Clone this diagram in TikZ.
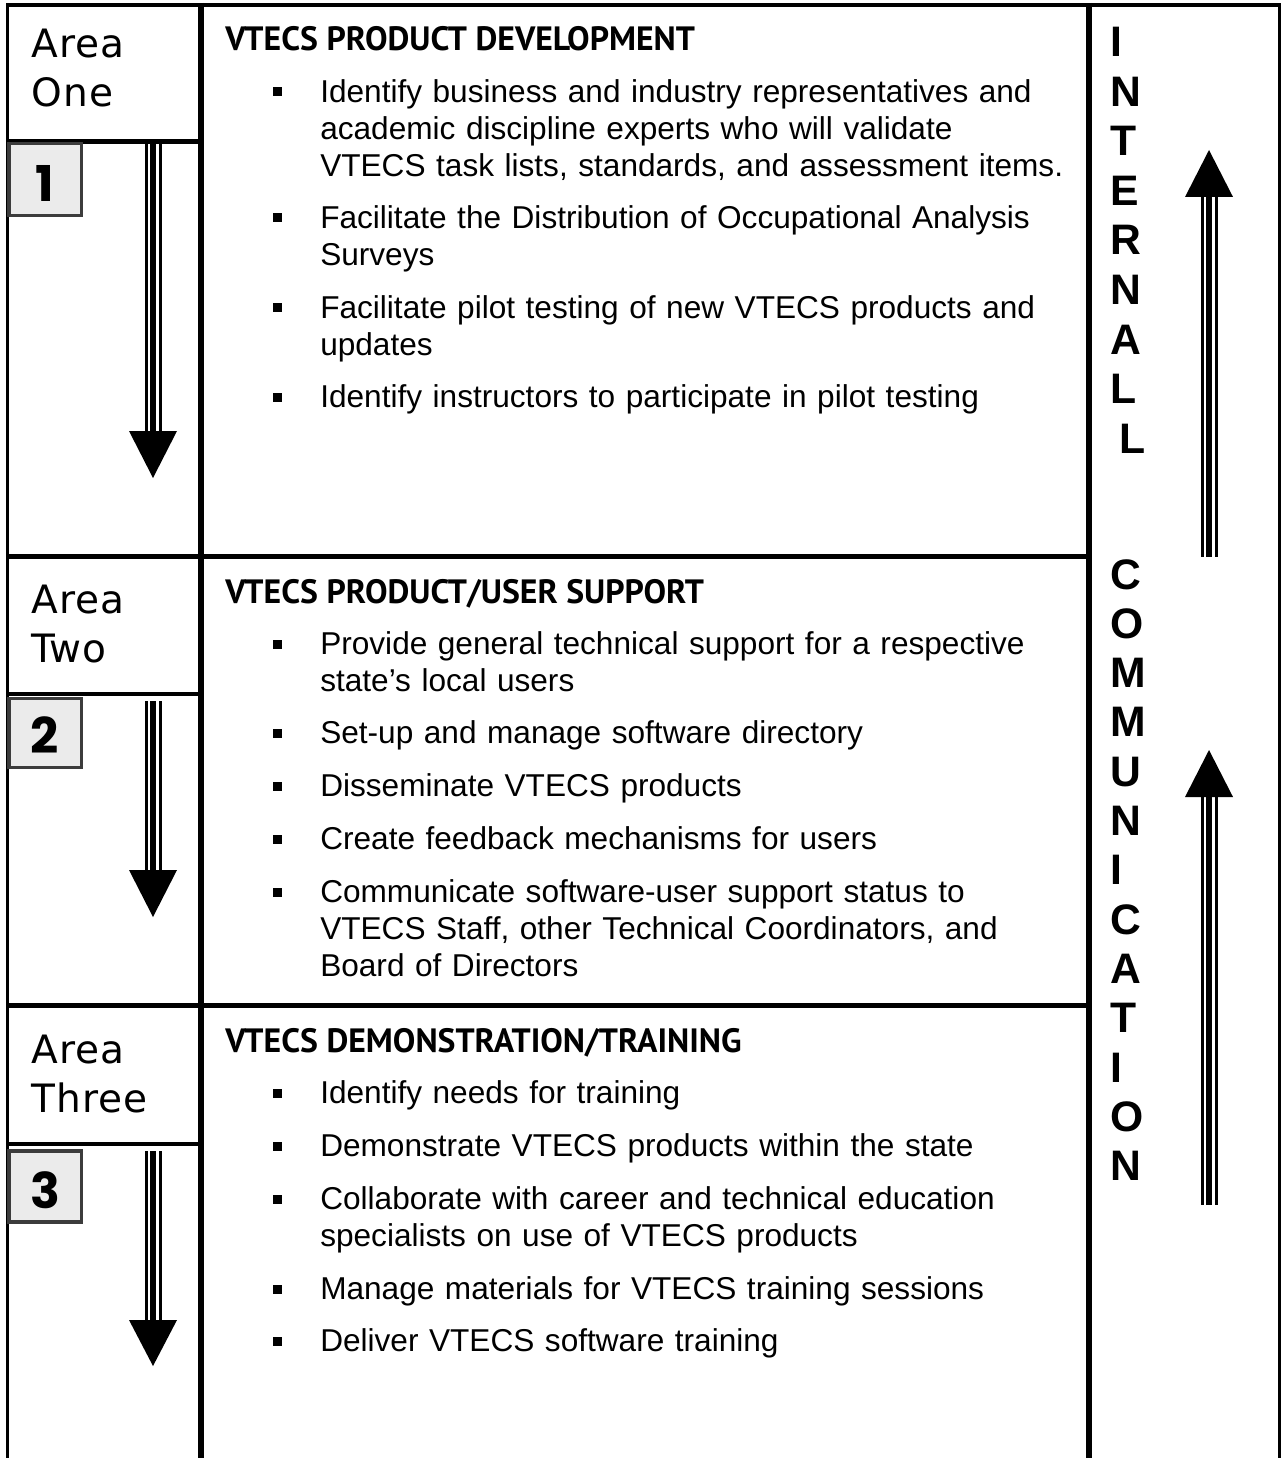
\documentclass[tikz,border=0pt]{standalone}
\usepackage{fontspec}
\setmainfont{Liberation Sans}
\newfontfamily\headfont{PT Sans}
\newfontfamily\areafont{DejaVu Sans}[LetterSpace=3]
\newfontfamily\numfont{Poppins}
\definecolor{boxgray}{HTML}{EBEBEB}
\definecolor{boxedge}{HTML}{3C3C3C}
\newcommand{\shaftdraw}[3]{% center x, y from, y to
  \fill (#1-8.5,#2) rectangle (#1-5.5,#3);
  \fill (#1-3,#2) rectangle (#1+3,#3);
  \fill (#1+5.5,#2) rectangle (#1+8.5,#3);}
\newcommand{\bulletitem}[3]{% name, first line visual centre, text
  \fill (273,#2-4.5) rectangle (282,#2+4.5);
  \node[itemtext] (#1) at (320,#2+10.5) {#3};}
\begin{document}
\begin{tikzpicture}[x=0.75pt,y=-0.75pt,
  thickline/.style={line width=4.2pt},
  midline/.style={line width=3.5pt},
  thinline/.style={line width=2.4pt},
  numbox/.style={draw=boxedge,fill=boxgray,line width=2.6pt},
  itemtext/.style={anchor=base west,inner sep=0pt,text width=600pt,align=left,
    font=\fontsize{23.7}{27.75}\selectfont},
  headtext/.style={anchor=base west,inner sep=0pt,font=\headfont\bfseries\fontsize{25.3}{28}\selectfont},
  areatext/.style={anchor=base west,inner sep=0pt,font=\areafont\fontsize{29.3}{34}\selectfont},
  numtext/.style={anchor=base,inner sep=0pt,font=\numfont\bfseries\fontsize{37}{40}\selectfont},
  vletter/.style={anchor=base west,inner sep=0pt,font=\bfseries\fontsize{32}{36}\selectfont}]
\useasboundingbox (0,0) rectangle (1282,1458);
% frame
\draw[midline] (6,5) -- (1281,5);
\draw[thinline] (7.5,5) -- (7.5,1458);
\draw[thinline] (1279.5,5) -- (1279.5,1458);
\draw[thickline] (201,3) -- (201,1458);
\draw[thickline] (1089,3) -- (1089,1458);
\draw[thickline] (6,556.5) -- (1091,556.5);
\draw[thickline] (6,1005.5) -- (1091,1005.5);
\draw[midline] (6,141.7) -- (201,141.7);
\draw[midline] (6,694) -- (201,694);
\draw[midline] (6,1144) -- (201,1144);
% number boxes
\draw[numbox] (8.8,143.5) rectangle (81.3,215.5);
\draw[numbox] (8.8,698.5) rectangle (81.3,767.5);
\draw[numbox] (8.8,1151) rectangle (81.3,1222);
\node[numtext] (n1) at (45,202) {1};
\node[numtext] (n2) at (45,753) {2};
\node[numtext] (n3) at (45,1208) {3};
% area labels
\node[areatext] (a1a) at (31,58) {Area};
\node[areatext] (a1b) at (31,107) {One};
\node[areatext] (a2a) at (31,613) {Area};
\node[areatext] (a2b) at (31,662) {Two};
\node[areatext] (a3a) at (31,1063) {Area};
\node[areatext] (a3b) at (31,1112) {Three};
% left arrows
\shaftdraw{153}{144}{432}
\fill (129,431) -- (177,431) -- (153,478) -- cycle;
\shaftdraw{153}{701}{871}
\fill (129,870) -- (177,870) -- (153,917) -- cycle;
\shaftdraw{153}{1151}{1321}
\fill (129,1320) -- (177,1320) -- (153,1366) -- cycle;
% right arrows
\shaftdraw{1209}{196}{557}
\fill (1185,197) -- (1233,197) -- (1209,150) -- cycle;
\shaftdraw{1209}{796}{1205}
\fill (1185,797) -- (1233,797) -- (1209,750) -- cycle;
% vertical words
\foreach \L [count=\i from 0] in {I,N,T,E,R,N,A,L}
  \node[vletter] (int\i) at (1110,57+49.5*\i) {\L};
\node[vletter] (int8) at (1119,453) {L};
\foreach \L [count=\i from 0] in {C,O,M,M,U,N,I,C,A,T,I,O,N}
  \node[vletter] (com\i) at (1110,589+49.33*\i) {\L};
% section 1
\node[headtext] (h1) at (225,51) {VTECS PRODUCT DEVELOPMENT};
\bulletitem{i11}{92}{Identify business and industry representatives and\\academic discipline experts who will validate\\VTECS task lists, standards, and assessment items.}
\bulletitem{i12}{218}{Facilitate the Distribution of Occupational Analysis\\Surveys}
\bulletitem{i13}{308}{Facilitate pilot testing of new VTECS products and\\updates}
\bulletitem{i14}{397}{Identify instructors to participate in pilot testing}
% section 2
\node[headtext] (h2) at (225,603) {VTECS PRODUCT/USER SUPPORT};
\bulletitem{i21}{644}{Provide general technical support for a respective\\state’s local users}
\bulletitem{i22}{733}{Set-up and manage software directory}
\bulletitem{i23}{786}{Disseminate VTECS products}
\bulletitem{i24}{839}{Create feedback mechanisms for users}
\bulletitem{i25}{892}{Communicate software-user support status to\\VTECS Staff, other Technical Coordinators, and\\Board of Directors}
% section 3
\node[headtext] (h3) at (225,1052) {VTECS DEMONSTRATION/TRAINING};
\bulletitem{i31}{1093}{Identify needs for training}
\bulletitem{i32}{1146}{Demonstrate VTECS products within the state}
\bulletitem{i33}{1199}{Collaborate with career and technical education\\specialists on use of VTECS products}
\bulletitem{i34}{1289}{Manage materials for VTECS training sessions}
\bulletitem{i35}{1341}{Deliver VTECS software training}
\end{tikzpicture}
\end{document}
